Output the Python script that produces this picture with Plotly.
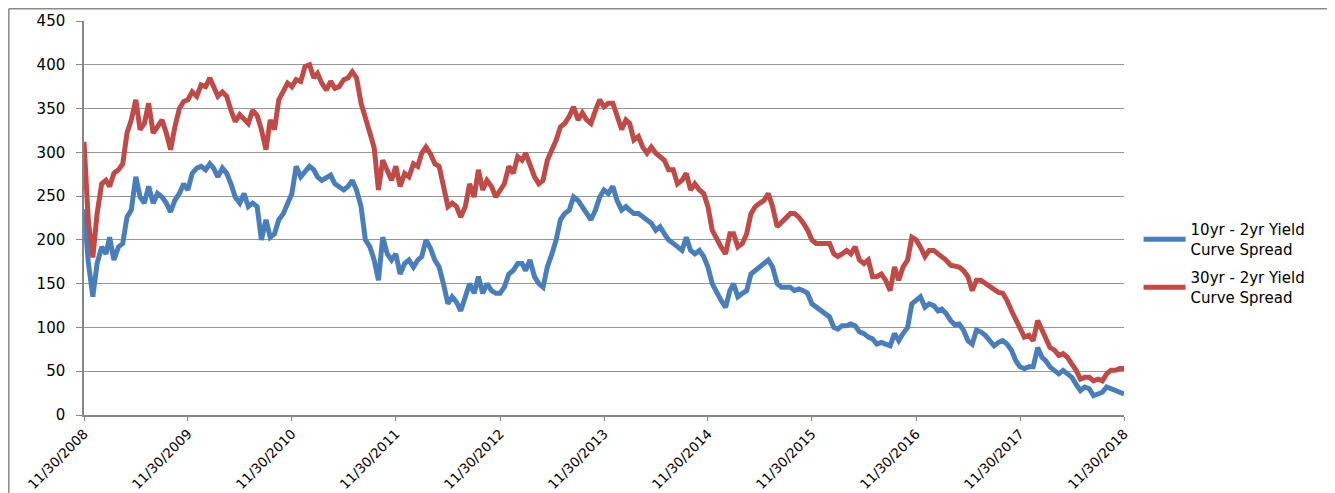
import calendar
import datetime as dt
import plotly.graph_objects as go

# Semi-monthly observation dates (15th and month end), 11/30/2008 .. 11/30/2018
dates = []
for yr in range(2008, 2019):
    for mo in range(1, 13):
        for day in (15, calendar.monthrange(yr, mo)[1]):
            d = dt.date(yr, mo, day)
            if dt.date(2008, 11, 30) <= d <= dt.date(2018, 11, 30):
                dates.append(d.isoformat())

spread_10y_2y = [
    235, 175, 135, 173, 192, 184, 203, 177, 192, 196, 226, 234, 272, 249, 242, 261, 242, 253, 249, 242,
    232, 245, 253, 264, 257, 276, 282, 284, 280, 287, 282, 272, 282, 276, 264, 249, 242, 253, 238, 242,
    238,
    200, 223, 203, 207, 223, 230, 240, 253, 284, 272, 278, 284, 280, 272, 268, 272, 274, 264, 261, 257,
    261, 268, 257, 238, 200, 192, 177, 154, 203, 184, 177, 184, 161, 173, 177, 169, 177, 181, 200, 190,
    177, 169, 150, 127, 135, 129, 119, 135, 150, 139, 158, 139, 150, 142, 139, 139, 146, 161, 165, 173,
    173, 165, 177, 158, 150, 146, 169, 184, 200, 223, 230, 234, 249, 245, 238, 230, 223, 234, 249, 257,
    253, 261, 245, 234, 238, 234, 230, 230, 226, 223, 219, 211, 215, 207, 200, 196, 192, 188, 203, 188,
    184, 188, 181, 169, 150, 139, 131, 123, 142, 150, 135, 139, 142, 161, 165, 169, 173, 177, 169, 150,
    146,
    146, 146, 142, 144, 142, 139, 127, 123, 119, 116, 112, 100, 98, 102, 102, 104, 102, 95, 93, 89,
    87, 81, 83, 81, 79, 93, 85, 93, 100, 127, 131, 135, 123, 127, 125, 119, 121, 116, 108, 103,
    104, 97, 85, 81, 97, 95, 91, 85, 79, 83, 85, 81, 74, 62, 55, 53, 55, 55, 77, 66,
    62, 55, 51, 47, 51, 47, 43, 35, 28, 32, 30, 22, 24, 26, 32, 30, 28, 26, 24,
]

spread_30y_2y = [
    312, 222, 180, 230, 264, 268, 261, 276, 280, 287, 322, 337, 360, 326, 333, 356, 322, 329, 337, 322,
    303, 329, 350, 358, 360, 369, 364, 377, 375, 385, 375, 364, 369, 364, 348, 335, 343, 337, 333, 348,
    342,
    326, 303, 337, 326, 360, 371, 379, 375, 383, 381, 398, 400, 385, 390, 379, 371, 381, 373, 375, 383,
    385, 392, 385, 356, 337, 322, 305, 257, 291, 280, 268, 284, 261, 276, 272, 287, 284, 299, 306, 298,
    287, 284, 261, 238, 242, 238, 226, 238, 264, 249, 280, 257, 268, 261, 249, 257, 264, 284, 276, 295,
    291, 299, 287, 272, 264, 268, 291, 303, 314, 329, 333, 341, 352, 337, 345, 337, 333, 348, 360, 352,
    356, 356, 341, 326, 337, 333, 314, 318, 306, 299, 306, 299, 295, 291, 280, 280, 264, 268, 276, 257,
    264, 257, 253, 238, 211, 200, 192, 184, 207, 207, 192, 196, 207, 230, 238, 242, 245, 253, 238, 215,
    220,
    226, 230, 230, 226, 219, 211, 200, 196, 196, 196, 196, 184, 181, 184, 188, 184, 192, 177, 173, 177,
    158, 158, 161, 154, 142, 169, 154, 169, 177, 203, 200, 192, 181, 188, 188, 184, 181, 177, 171, 170,
    169, 165, 158, 142, 154, 154, 150, 146, 142, 140, 139, 131, 119, 108, 97, 89, 91, 85, 108, 97,
    89, 77, 74, 68, 70, 66, 58, 51, 41, 43, 43, 39, 41, 39, 47, 51, 51, 53, 53,
]

tick_dates = [f"{y}-11-30" for y in range(2008, 2019)]
tick_labels = [f"11/30/{y}" for y in range(2008, 2019)]

series_names = ["10yr - 2yr Yield<br>Curve Spread", "30yr - 2yr Yield<br>Curve Spread"]
colors = ["#4A7EBB", "#BE4B48"]

fig = go.Figure()
for i, (name, vals, col) in enumerate(zip(series_names, [spread_10y_2y, spread_30y_2y], colors)):
    fig.add_trace(go.Scatter(x=dates, y=vals, mode="lines", name=name,
                             legendgroup=f"g{i}",
                             line=dict(color=col, width=5)))

# page body adds an 8px offset, so the figure is 8px smaller than the window
W, H = 1327, 485
ML, MR, MT, MB = 76, 211, 13, 78
PW, PH = W - ML - MR, H - MT - MB

font_family = "'DejaVu Sans', 'Liberation Sans', sans-serif"
border = dict(color="#8a8a8a", width=1.5)
fig.update_layout(
    width=W, height=H,
    margin=dict(l=ML, r=MR, t=MT, b=MB),
    paper_bgcolor="white", plot_bgcolor="white",
    font=dict(family=font_family, size=13, color="#000000"),
    showlegend=True,
    legend=dict(x=1.014, xanchor="left", y=0.385, yanchor="middle",
                font=dict(size=15, family=font_family), itemwidth=42,
                bgcolor="rgba(0,0,0,0)", tracegroupgap=6),
    xaxis=dict(type="date", range=["2008-11-30", "2018-11-30"],
               tickmode="array", tickvals=tick_dates, ticktext=tick_labels,
               tickangle=-45, ticks="outside", ticklen=4, tickcolor="#868686",
               showline=True, linecolor="#868686", linewidth=1.5,
               showgrid=False, zeroline=False, automargin=False,
               tickfont=dict(size=13.5, family=font_family)),
    yaxis=dict(range=[0, 450], dtick=50, tick0=0,
               ticks="outside", ticklen=6, tickcolor="#868686",
               showline=True, linecolor="#868686", linewidth=1.5,
               showgrid=True, gridcolor="#969696", gridwidth=1,
               zeroline=False, automargin=False, ticklabelstandoff=8,
               tickfont=dict(size=15, family=font_family)),
    shapes=[
        # chart-area frame: top, left and right edges
        dict(type="line", xref="paper", yref="paper",
             x0=(0.8 - ML) / PW, x1=(W - 2 - ML) / PW,
             y0=1 + (MT - 0.8) / PH, y1=1 + (MT - 0.8) / PH, line=border),
        dict(type="line", xref="paper", yref="paper",
             x0=(0.8 - ML) / PW, x1=(0.8 - ML) / PW,
             y0=1 + (MT - 0.8) / PH, y1=-(MB + 5) / PH, line=border),
        dict(type="line", xref="paper", yref="paper",
             x0=(W - 2 - ML) / PW, x1=(W - 2 - ML) / PW,
             y0=1 + (MT - 0.8) / PH, y1=-(MB + 5) / PH, line=border),
    ],
)

fig.write_html("out.html")
